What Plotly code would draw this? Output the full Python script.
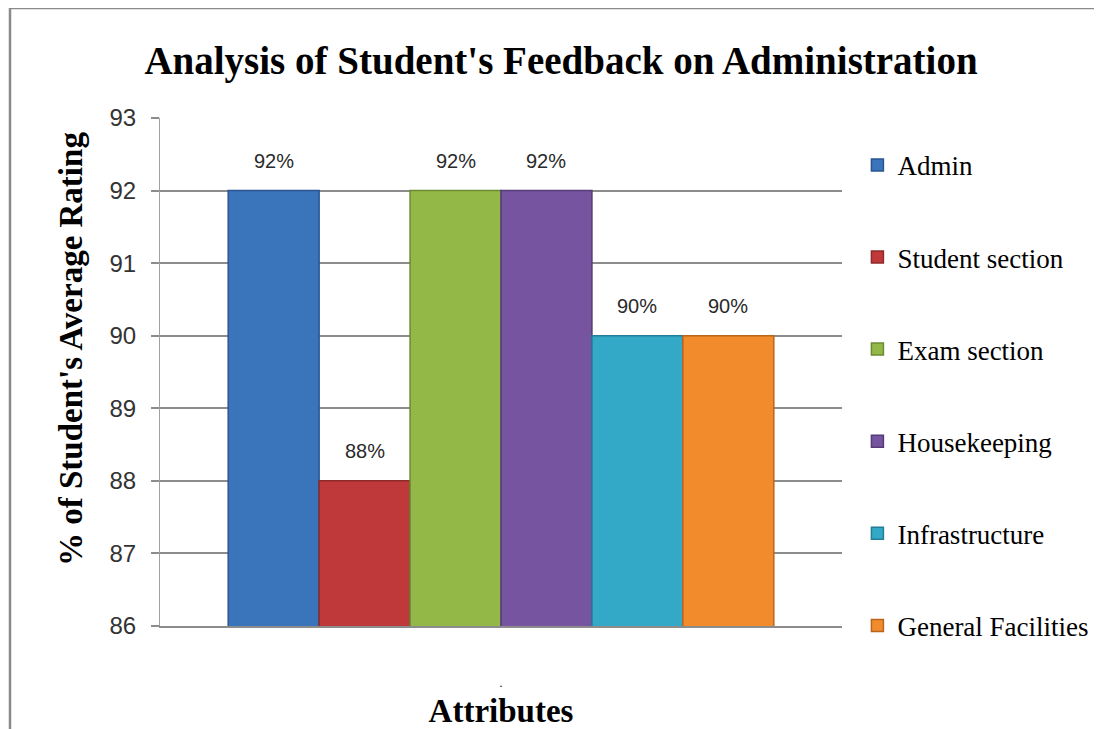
import plotly.graph_objects as go

categories = ["."]
series_names = ["Admin", "Student section", "Exam section", "Housekeeping", "Infrastructure", "General Facilities"]
series_values = [92, 88, 92, 92, 90, 90]
series_colors = ["#3a74ba", "#c0393a", "#93b847", "#7654a0", "#33a8c7", "#f28b2b"]
edge_colors = ["#2a5590", "#8f2a2b", "#6d8a33", "#553b77", "#237d95", "#b8661e"]
y_ticks = [86, 87, 88, 89, 90, 91, 92, 93]

BARGAP = 0.2
n = len(series_names)
SERIF = "Liberation Serif, Times New Roman"
SANS = "Liberation Sans, Arial"

fig = go.Figure()
for i, (name, val, col, edge) in enumerate(zip(series_names, series_values, series_colors, edge_colors)):
    fig.add_trace(go.Bar(
        x=categories, y=[val], name=name, legendgroup=name,
        marker=dict(color=col, line=dict(color=edge, width=1.5)),
    ))
    fig.add_annotation(
        x=(i - (n - 1) / 2) * (1 - BARGAP) / n, y=val, xref="x", yref="y",
        text=f"{val}%", showarrow=False, yshift=30,
        font=dict(family=SANS, size=20, color="#2a2a2a"),
    )

W, H = 1094, 721
L, T, PW, PH = 152, 110, 682, 508
R, B = W - L - PW, H - T - PH

fig.update_layout(
    width=W, height=H,
    margin=dict(l=L, r=R, t=T, b=B, autoexpand=False),
    paper_bgcolor="white", plot_bgcolor="white",
    barmode="group", bargap=BARGAP, bargroupgap=0,
    title=dict(text="<b>Analysis of Student's Feedback on Administration</b>",
               x=0.5055, xanchor="center", y=0.928, yanchor="middle",
               font=dict(family=SERIF, size=39, color="black")),
    legend=dict(x=1.0226, xanchor="left", y=0.955, yanchor="top",
                font=dict(family=SERIF, size=27, color="black"),
                tracegroupgap=54, itemclick=False, bgcolor="rgba(0,0,0,0)", maxheight=720),
    showlegend=True,
    font=dict(family=SERIF, color="black"),
)
fig.update_yaxes(
    range=[86, 93], tickvals=y_ticks, ticks="outside", ticklen=8, tickcolor="#8c8c8c", tickwidth=1.5,
    showgrid=True, gridcolor="#8c8c8c", gridwidth=1.5, automargin=False,
    showline=True, linecolor="#a0a0a0", linewidth=1, ticklabelstandoff=10,
    tickfont=dict(family=SANS, size=24, color="#333333"),
    zeroline=False,
)
fig.update_xaxes(
    showline=True, linecolor="#8c8c8c", linewidth=2, ticks="", automargin=False,
    ticklabelstandoff=45,
    tickfont=dict(family=SERIF, size=12, color="black"),
    title=dict(text="<b>Attributes</b>", standoff=10,
               font=dict(family=SERIF, size=33, color="black")),
)

# y-axis title (placed above the plot centre, as in the reference)
fig.add_annotation(
    text="<b>% of Student's Average Rating</b>", textangle=-90, showarrow=False,
    xref="paper", yref="paper", x=(63 - L) / PW, y=1 - (341 - T) / PH,
    xanchor="center", yanchor="middle",
    font=dict(family=SERIF, size=33, color="black"),
)

# chart-area border
fig.add_shape(type="rect", xref="paper", yref="paper",
              x0=(2 - L) / PW, x1=(1092 - L) / PW,
              y0=1 - (H + 40 - T) / PH, y1=1 - (0 - T) / PH,
              line=dict(color="#8a8a8a", width=2.5), fillcolor="rgba(0,0,0,0)", layer="below")

fig.write_html("out.html")
